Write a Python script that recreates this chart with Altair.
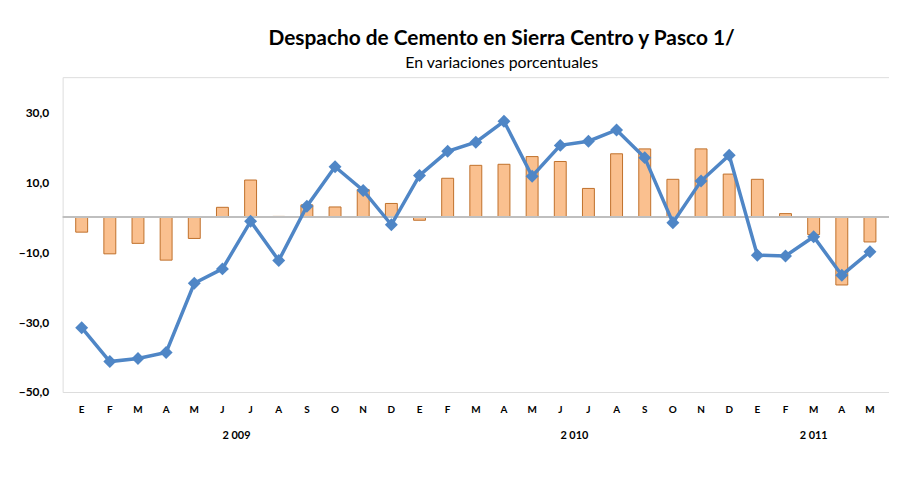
import altair as alt
import pandas as pd

months = ["E","F","M","A","M","J","J","A","S","O","N","D",
          "E","F","M","A","M","J","J","A","S","O","N","D",
          "E","F","M","A","M"]
sierra_centro = [-4.3,-10.5,-7.5,-12.3,-6.1,2.8,10.6,0.2,3.5,2.9,7.9,3.9,
                 -0.9,11.1,14.8,15.1,17.3,15.9,8.2,18.1,19.5,10.8,19.5,12.3,
                 10.8,1.0,-5.0,-19.4,-7.1]
pasco = [-31.6,-41.3,-40.4,-38.7,-18.9,-14.8,-1.2,-12.4,3.1,14.4,7.6,-2.2,
         11.9,18.8,21.4,27.4,11.7,20.5,21.7,24.9,17.0,-1.6,10.3,17.7,
         -10.9,-11.1,-5.6,-16.6,-9.9]
years = ["2 009","2 010","2 011"]
year_centers = [5.5, 17.5, 26.0]

n = len(months)
df = pd.DataFrame({
    "i": list(range(n)),
    "mes": months,
    "sc": sierra_centro,
    "pasco": pasco,
})
dfy = pd.DataFrame({"c": year_centers, "year": years})

W = 832
H = 317
FONT = "Lato"
ORANGE_FILL = "#FAC08F"
ORANGE_STROKE = "#C0702A"
BLUE = "#4F86C6"
GRAY = "#BFBFBF"

xs = alt.Scale(domain=[-0.5, n - 0.5], nice=False, zero=False)
ys = alt.Scale(domain=[-50, 40], nice=False)
X = alt.X("i:Q", scale=xs, axis=None)

base = alt.Chart(df)

bars = base.mark_bar(size=12, stroke=ORANGE_STROKE, strokeWidth=1, fill=ORANGE_FILL).encode(
    x=X,
    y=alt.Y("sc:Q", scale=ys,
            axis=alt.Axis(values=list(range(-50, 41, 10)), grid=False, ticks=False,
                          domain=False, title=None,
                          labelExpr="replace(format(datum.value, '.1f'), '.', ',')",
                          labelFont=FONT, labelFontWeight="bold", labelFontSize=12,
                          labelColor="#000000", labelPadding=14)),
)

zero = alt.Chart(pd.DataFrame({"z": [0]})).mark_rule(color=GRAY, strokeWidth=2).encode(
    y=alt.Y("z:Q", scale=ys)
)

line = base.mark_line(strokeWidth=3.5, color=BLUE).encode(
    x=X,
    y=alt.Y("pasco:Q", scale=ys),
)

points = base.mark_point(shape="diamond", filled=True, size=170, color=BLUE, opacity=1).encode(
    x=X,
    y=alt.Y("pasco:Q", scale=ys),
)

month_text = base.mark_text(font=FONT, fontWeight="bold", fontSize=10, baseline="middle").encode(
    x=X,
    y=alt.value(335),
    text="mes:N",
)

year_text = alt.Chart(dfy).mark_text(font=FONT, fontWeight="bold", fontSize=11, baseline="middle").encode(
    x=alt.X("c:Q", scale=xs),
    y=alt.value(361),
    text="year:N",
)

chart = alt.layer(
    bars, zero, line, points, month_text, year_text
).properties(
    width=W, height=H,
    autosize=alt.AutoSizeParams(type="none"),
    padding={"left": 55, "top": 68, "right": 0, "bottom": 98},
    title=alt.TitleParams(
        "Despacho de Cemento en Sierra Centro y Pasco 1/",
        subtitle="En variaciones porcentuales",
        anchor="middle", dx=26, offset=6,
        font=FONT, fontSize=21, fontWeight="bold", color="#000000",
        subtitleFont=FONT, subtitleFontSize=16, subtitleColor="#000000",
        subtitlePadding=6,
    ),
)

chart.save("out.html", embed_options={"renderer": "svg", "actions": False})
